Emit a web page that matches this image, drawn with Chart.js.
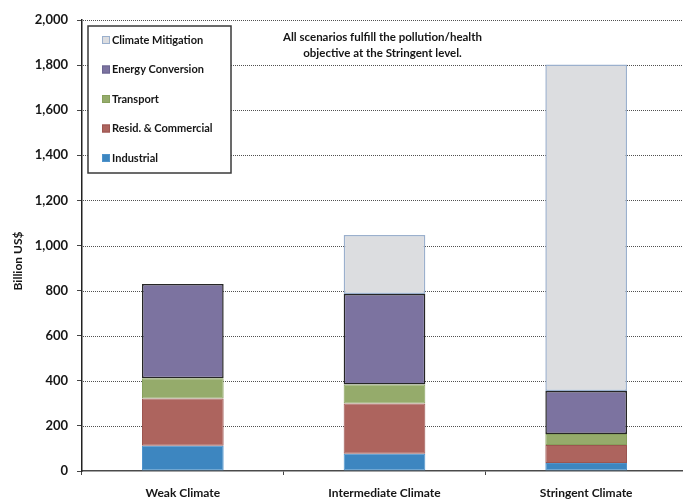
<!DOCTYPE html>
<html lang="en">
<head>
    <meta charset="UTF-8">
    <title>Costs by scenario</title>
    <script src="https://cdn.jsdelivr.net/npm/chart.js"></script>
    <style>
        html, body { margin: 0; padding: 0; background: #ffffff; }
        .wrap { width: 683px; height: 501px; overflow: hidden; position: relative; }
    </style>
</head>
<body>
    <div class="wrap">
        <canvas id="chart" width="690" height="501"></canvas>
    </div>

    <script>
        // Data (billion US$)
        const categories = ['Weak Climate', 'Intermediate Climate', 'Stringent Climate'];
        const industrial = [112, 77, 35];
        const residCommercial = [210, 222, 80];
        const transport = [89, 85, 49];
        const energyConversion = [418, 401, 191];
        const climateMitigation = [null, 262, 1448];

        const yTitle = 'Billion US$';
        const noteLines = ['All scenarios fulfill the pollution/health', 'objective at the Stringent level.'];

        const FONT = 'Lato, "Open Sans", sans-serif';
        const TEXT = '#161616';

        // dotted horizontal grid, drawn by hand under the bars
        const dottedGrid = {
            id: 'dottedGrid',
            beforeDatasetsDraw(chart) {
                const {ctx, chartArea, scales} = chart;
                ctx.save();
                ctx.strokeStyle = '#505050';
                ctx.lineWidth = 1;
                ctx.setLineDash([1, 1]);
                scales.y.ticks.forEach((t) => {
                    if (t.value === 0) return;
                    const y = Math.round(scales.y.getPixelForValue(t.value)) + 0.5;
                    ctx.beginPath();
                    ctx.moveTo(chartArea.left + 1, y);
                    ctx.lineTo(chartArea.right, y);
                    ctx.stroke();
                });
                ctx.restore();
            }
        };

        // legend box drawn inside the plot, last series on top
        const legendBox = {
            id: 'legendBox',
            afterDatasetsDraw(chart) {
                const ctx = chart.ctx;
                ctx.save();
                ctx.fillStyle = '#ffffff';
                ctx.fillRect(88, 26, 143, 147);
                ctx.strokeStyle = '#3a3a3a';
                ctx.lineWidth = 1.5;
                ctx.strokeRect(88, 26, 143, 147);
                ctx.font = 'bold 11px ' + FONT;
                ctx.textBaseline = 'middle';
                ctx.textAlign = 'left';
                const sets = chart.data.datasets.slice().reverse();
                sets.forEach((ds, i) => {
                    const y = 40 + i * 29.5;
                    ctx.fillStyle = ds.backgroundColor;
                    ctx.fillRect(102, y - 4, 8, 8);
                    ctx.strokeStyle = ds.borderColor === '#262626' ? '#6a6490' : ds.borderColor;
                    ctx.lineWidth = 1;
                    ctx.strokeRect(102.5, y - 3.5, 7, 7);
                    ctx.fillStyle = TEXT;
                    ctx.fillText(ds.label, 112, y);
                });

                // note above the middle bar
                const x = chart.scales.x.getPixelForValue(1) - 2;
                ctx.textAlign = 'center';
                ctx.font = 'bold 11.5px ' + FONT;
                noteLines.forEach((line, i) => ctx.fillText(line, x, 37 + i * 16.5));

                // y axis title
                ctx.translate(18, 261);
                ctx.rotate(-Math.PI / 2);
                ctx.font = 'bold 12px ' + FONT;
                ctx.fillText(yTitle, 0, 0);
                ctx.restore();
            }
        };

        const makeSet = (label, data, bg, border, width) => ({
            label: label,
            data: data,
            backgroundColor: bg,
            borderColor: border,
            borderWidth: width,
            borderSkipped: false,
            barPercentage: 0.405,
            categoryPercentage: 1.0
        });

        new Chart(document.getElementById('chart'), {
            type: 'bar',
            data: {
                labels: categories,
                datasets: [
                    makeSet('Industrial', industrial, '#3d86c0', '#4f93cb', 1),
                    makeSet('Resid. & Commercial', residCommercial, '#ad645e', '#9c5550', 1),
                    makeSet('Transport', transport, '#95ab6b', '#87a05c', 1),
                    makeSet('Energy Conversion', energyConversion, '#7c73a0', '#262626', 1.5),
                    makeSet('Climate Mitigation', climateMitigation, '#dcdde0', '#9bb0cd', 1.5)
                ]
            },
            options: {
                responsive: false,
                animation: false,
                layout: { padding: { top: 20, right: 3, bottom: 0, left: 0 } },
                plugins: {
                    legend: { display: false },
                    tooltip: { enabled: false }
                },
                scales: {
                    x: {
                        stacked: true,
                        offset: true,
                        grid: {
                            offset: true,
                            drawOnChartArea: false,
                            drawTicks: true,
                            tickLength: 4,
                            tickColor: '#444444',
                            tickWidth: 1
                        },
                        border: { display: true, color: '#4a4a4a', width: 1.5 },
                        ticks: {
                            color: TEXT,
                            padding: 11,
                            maxRotation: 0,
                            font: { family: FONT, size: 12, weight: 'bold' }
                        },
                        afterFit(scale) { scale.height = 30; }
                    },
                    y: {
                        stacked: true,
                        min: 0,
                        max: 2000,
                        ticks: {
                            stepSize: 200,
                            color: TEXT,
                            padding: 9,
                            font: { family: FONT, size: 13, weight: 'bold' },
                            callback: (v) => v.toLocaleString('en-US')
                        },
                        grid: {
                            drawOnChartArea: false,
                            drawTicks: true,
                            tickLength: 5,
                            tickColor: '#444444',
                            tickWidth: 1
                        },
                        border: { display: true, color: '#222222', width: 1.5 },
                        afterFit(scale) { scale.width = 82; }
                    }
                }
            },
            plugins: [dottedGrid, legendBox]
        });
    </script>
</body>
</html>
